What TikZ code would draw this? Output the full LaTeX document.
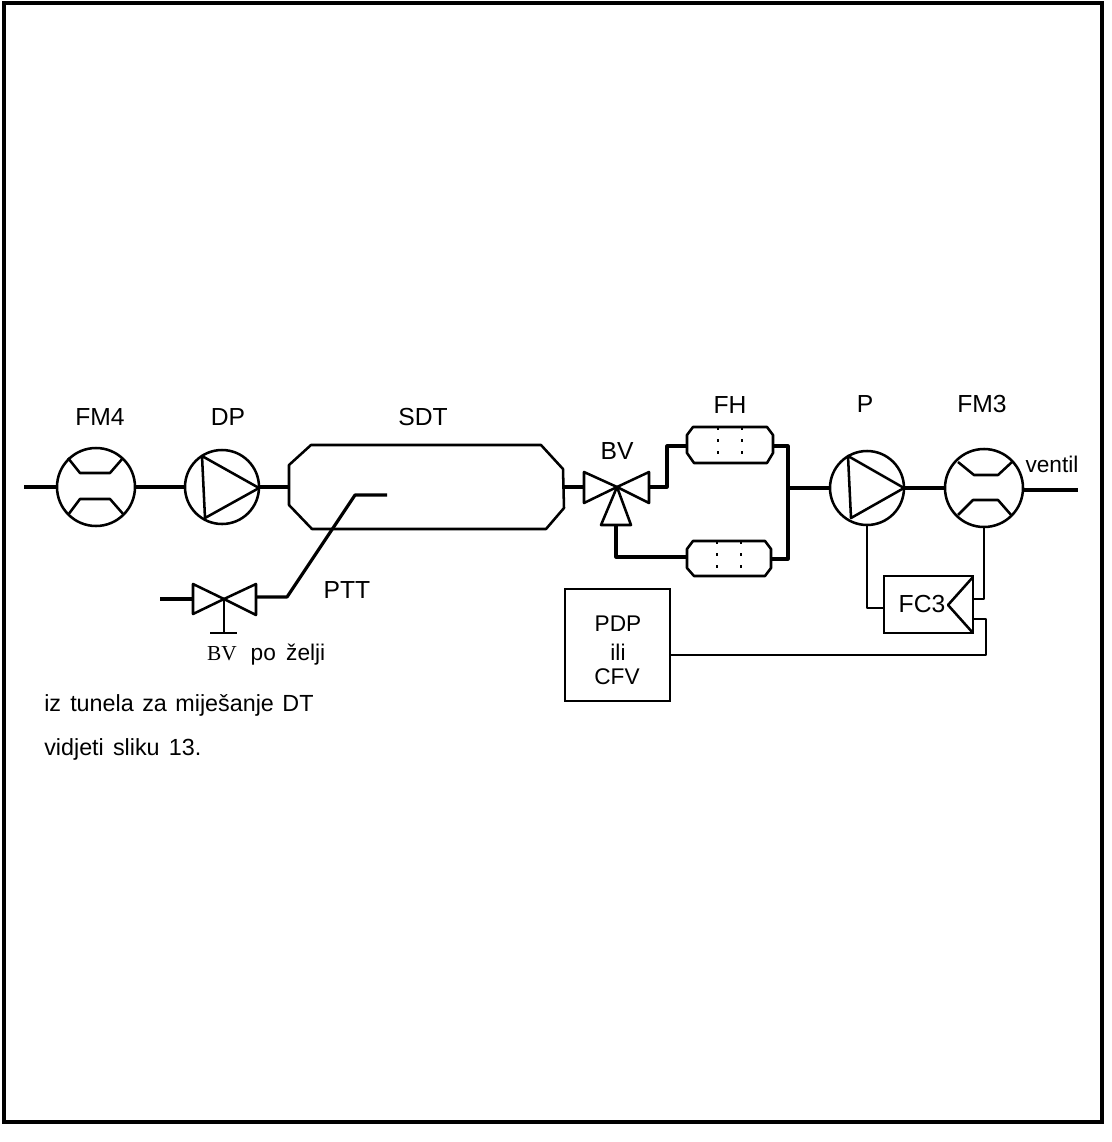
\documentclass[tikz,border=0pt]{standalone}
\usepackage{fontspec}
\setmainfont{Liberation Sans}
\newfontfamily\serifface{Liberation Serif}
\tikzset{
  pipe/.style={line width=2.4pt,line join=round},
  thinpipe/.style={line width=2pt,line join=round},
  part/.style={line width=1.9pt,line join=round},
  label/.style={anchor=base,inner sep=0pt,font=\fontsize{18.5}{20}\selectfont},
  small/.style={anchor=base,inner sep=0pt,font=\fontsize{17}{20}\selectfont},
  note/.style={anchor=base west,inner sep=0pt,font=\fontsize{17.5}{20}\selectfont},
  meter/.style={circle,draw,line width=1.9pt,minimum size=58.5pt,inner sep=0pt,outer sep=0pt},
  pumpbody/.style={circle,draw,line width=1.9pt,minimum size=55.5pt,inner sep=0pt,outer sep=0pt},
  box/.style={draw,rectangle,line width=1.9pt,inner sep=0pt,outer sep=0pt},
  filterdots/.style={line width=1.5pt,dash pattern=on 2pt off 7pt}
}
\begin{document}
\begin{tikzpicture}[x=0.75pt,y=-0.75pt]
\useasboundingbox (0,0) rectangle (1111,1142);
\fill[white] (0,0) rectangle (1111,1142);
% page frame
\draw[line width=2.4pt] (4,3) rectangle (1102,1122);

% free ends and junctions of the gas line
\coordinate (inlet) at (24,487);
\coordinate (outlet) at (1078,490);
\coordinate (sdtW) at (289,487);
\coordinate (sdtE) at (564,487);
\coordinate (bvL) at (584,487);
\coordinate (bvR) at (649,487);
\coordinate (bvB) at (616,525);
\coordinate (bvC) at (617,487);
\coordinate (tee) at (788,488);
\coordinate (pttEnd) at (387,495);
\coordinate (pttIn) at (160,599);
\coordinate (sampL) at (193,599);
\coordinate (sampR) at (256,597);
\coordinate (sampC) at (224,599);
\coordinate (sampStem) at (224,633);

% flow meter FM4
\node[meter] (fm4) at (96,487) {};
\draw[part] (68,458) -- (80,473) -- (110,473) -- (123,458);
\draw[part] (68,515) -- (80,499) -- (110,499) -- (124,515);
\node[label] (fm4txt) at (100,425) {FM4};

% dilution pump DP
\node[pumpbody] (dp) at (222,487) {};
\draw[part] (202,456) -- (205,518) -- (259,488) -- cycle;
\node[label] (dptxt) at (228,425) {DP};

% sampling tunnel SDT
\draw[part] (311,445) -- (541,445) -- (563,469) -- (564,508) -- (546,529)
  -- (312,529) -- (289,505) -- (289,465) -- cycle;
\node[label] (sdttxt) at (423,425) {SDT};

% transfer tube PTT with its ball valve
\draw[part] (193,584) -- (193,614) -- (sampC) -- cycle;
\draw[part] (256,584) -- (256,615) -- (sampC) -- cycle;
\draw[part] (sampC) -- (sampStem);
\draw[part] (210,633) -- (237,633);
\draw[pipe] (pttIn) -- (sampL);
\draw[pipe] (sampR) -- (287,597) -- (355,495) -- (pttEnd);
\node[label] (ptttxt) at (347,598) {PTT};
\node[label,font=\serifface\fontsize{16}{18}\selectfont] (bvS) at (222,660) {BV};
\node[small] (potxt) at (288,660) {po\hspace{3pt} želji};

% three-way valve BV
\draw[part] (584,472) -- (584,503) -- (bvC) -- cycle;
\draw[part] (649,472) -- (649,503) -- (bvC) -- cycle;
\draw[part] (601,525) -- (631,525) -- (bvC) -- cycle;
\node[label] (bvtxt) at (617,459) {BV};

% filter holders FH
\draw[part] (693,427) -- (767,427) -- (773,435) -- (773,453) -- (767,463)
  -- (694,463) -- (687,453) -- (687,435) -- cycle;
\draw[part] (693,541) -- (765,541) -- (771,549) -- (771,568) -- (765,576)
  -- (694,576) -- (687,568) -- (687,549) -- cycle;
\draw[filterdots] (718,427) -- (718,463);
\draw[filterdots] (742,427) -- (742,463);
\draw[filterdots] (717,541) -- (717,576);
\draw[filterdots] (741,541) -- (741,576);
\coordinate (fh1W) at (687,446);
\coordinate (fh1E) at (773,446);
\coordinate (fh2W) at (687,557);
\coordinate (fh2E) at (771,559);
\node[label] (fhtxt) at (730,413) {FH};

% sampling pump P
\node[pumpbody] (p) at (867,488) {};
\draw[part] (848,456) -- (851,518) -- (904,488) -- cycle;
\node[label] (ptxt) at (865,412) {P};

% flow meter FM3
\node[meter] (fm3) at (984,488) {};
\draw[part] (958,462) -- (974,475) -- (998,475) -- (1012,462);
\draw[part] (958,515) -- (973,500) -- (998,500) -- (1012,516);
\node[label] (fm3txt) at (982,412) {FM3};
\node[small] (ventil) at (1052,472) {ventil};

% flow controller FC3
\node[box,minimum width=66.75pt,minimum height=42.75pt] (fc3) at (928.5,604.5) {};
\draw[part] (973,577) -- (948,605) -- (973,633);
\node[label] (fc3txt) at (922,612) {FC3};

% positive displacement pump or venturi
\node[box,minimum width=78.75pt,minimum height=84pt] (pdp) at (617.5,645) {};
\node[small] (l1) at (618,631) {PDP};
\node[small] (l2) at (618,660) {ili};
\node[small] (l3) at (617,684) {CFV};

% explanatory notes
\node[note] (n1) at (44,711) {iz\hspace{2pt} tunela\hspace{1.5pt} za\hspace{1.5pt} miješanje\hspace{1.5pt} DT};
\node[note] (n2) at (44,755) {vidjeti\hspace{2pt} sliku\hspace{2pt} 13.};

% gas line
\draw[pipe] (inlet) -- (fm4.west);
\draw[pipe] (fm4.east) -- (dp.west);
\draw[pipe] (dp.east) -- (sdtW);
\draw[pipe] (sdtE) -- (bvL);
\draw[pipe] (bvR) -- (667,487) -- (667,446) -- (fh1W);
\draw[pipe] (bvB) -- (616,557) -- (fh2W);
\draw[pipe] (fh1E) -- (788,446) -- (788,559) -- (fh2E);
\draw[pipe] (tee) -- (p.west);
\draw[pipe] (p.east) -- (fm3.west);
\draw[pipe] ([yshift=-1.5pt]fm3.east) -- (outlet);

% control signals
\draw[thinpipe] (p.south) -- (867,608) -- (884,608);
\draw[thinpipe] (fm3.south) -- (984,599) -- (973,599);
\draw[thinpipe] (973,619) -- (986,619) -- (986,655) -- (pdp.east |- 986,655);
\end{tikzpicture}
\end{document}
